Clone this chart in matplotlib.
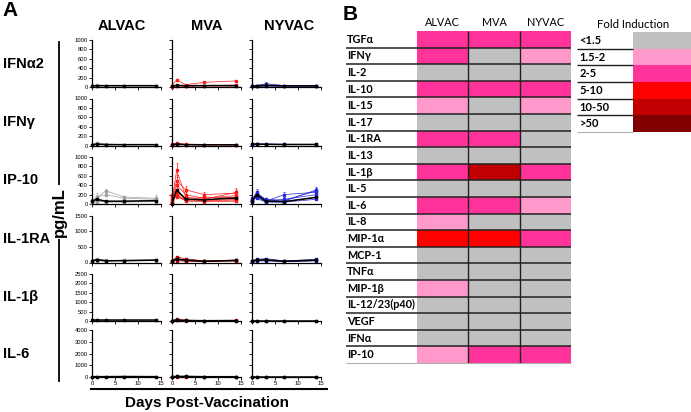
import matplotlib
matplotlib.use('Agg')
import matplotlib.pyplot as plt
import numpy as np
from matplotlib.colors import ListedColormap, BoundaryNorm

# ---- panel A data: days and per-animal cytokine levels (pg/mL) ----
DAYS = [0, 1, 3, 7, 14]
VACCINES = ['ALVAC', 'MVA', 'NYVAC']
CYTOKINES = ['IFN\u03b12', 'IFN\u03b3', 'IP-10', 'IL-1RA', 'IL-1\u03b2', 'IL-6']
YMAX = [1000, 1000, 1000, 1500, 2500, 4000]
YSTEP = [200, 200, 200, 500, 500, 1000]

IFNA2 = {
    'ALVAC': [[25, 30, 30, 28, 30], [20, 25, 22, 25, 25], [30, 35, 30, 30, 28]],
    'MVA': [[20, 150, 50, 100, 130], [10, 30, 20, 30, 40], [15, 20, 15, 20, 20]],
    'NYVAC': [[20, 30, 70, 30, 30], [15, 25, 30, 25, 25], [20, 20, 20, 20, 20]],
}
IFNA2_MEAN = {'ALVAC': [25, 30, 28, 28, 28], 'MVA': [18, 35, 28, 30, 30],
              'NYVAC': [20, 25, 35, 25, 25]}
IFNA2_ERR = {'MVA': [[5, 30, 10, 25, 20]], 'NYVAC': [[5, 10, 30, 10, 5]]}

IFNG = {
    'ALVAC': [[20, 60, 30, 20, 20], [10, 20, 15, 15, 15]],
    'MVA': [[30, 50, 25, 20, 20], [20, 30, 20, 15, 15], [10, 15, 10, 10, 10]],
    'NYVAC': [[30, 35, 35, 25, 25], [20, 25, 20, 20, 20]],
}
IFNG_MEAN = {'ALVAC': [15, 30, 20, 18, 18], 'MVA': [20, 30, 20, 15, 15],
             'NYVAC': [25, 30, 25, 22, 22]}
IFNG_ERR = {}

IP10 = {
    'ALVAC': [[60, 130, 280, 150, 120], [50, 150, 200, 120, 100], [40, 90, 60, 50, 60],
              [80, 60, 40, 40, 50], [30, 50, 50, 60, 80]],
    'MVA': [[50, 720, 150, 100, 250], [100, 500, 300, 200, 230], [80, 400, 200, 120, 180],
            [150, 300, 100, 80, 150], [30, 250, 120, 60, 100], [20, 200, 80, 90, 80],
            [60, 180, 60, 50, 60], [200, 150, 90, 150, 120]],
    'NYVAC': [[80, 250, 80, 60, 300], [100, 220, 100, 80, 280], [60, 180, 60, 200, 250],
              [120, 150, 50, 100, 200], [50, 200, 70, 50, 150], [90, 120, 40, 40, 100]],
}
IP10_MEAN = {'ALVAC': [60, 100, 60, 60, 70], 'MVA': [10, 300, 100, 90, 130],
             'NYVAC': [60, 200, 60, 50, 140]}
IP10_ERR = {
    'ALVAC': [[20, 60, 40, 30, 80], [20, 80, 30, 20, 30]],
    'MVA': [[20, 150, 60, 40, 90], [30, 120, 80, 60, 60], [20, 100, 50, 30, 40]],
    'NYVAC': [[20, 60, 20, 20, 60], [30, 40, 30, 20, 50], [20, 30, 20, 60, 40]],
}

IL1RA = {
    'ALVAC': [[60, 120, 70, 60, 80], [40, 80, 50, 50, 60], [50, 60, 40, 70, 90]],
    'MVA': [[60, 170, 120, 50, 80], [40, 120, 80, 40, 60], [30, 90, 60, 30, 50],
            [50, 60, 40, 40, 70]],
    'NYVAC': [[60, 100, 120, 50, 100], [40, 70, 80, 40, 70], [30, 50, 50, 30, 50]],
}
IL1RA_MEAN = {'ALVAC': [50, 90, 55, 60, 75], 'MVA': [45, 110, 75, 40, 65],
              'NYVAC': [45, 75, 85, 40, 75]}
IL1RA_ERR = {}

IL1B = {
    'ALVAC': [[30, 30, 30, 30, 30]],
    'MVA': [[20, 80, 40, 20, 30], [10, 40, 20, 10, 20]],
    'NYVAC': [[20, 20, 20, 20, 20]],
}
IL1B_MEAN = {'ALVAC': [30, 30, 30, 30, 30], 'MVA': [15, 60, 30, 15, 25],
             'NYVAC': [20, 20, 20, 20, 20]}
IL1B_ERR = {}

IL6 = {
    'ALVAC': [[30, 30, 30, 40, 30]],
    'MVA': [[40, 60, 60, 30, 30], [20, 30, 40, 20, 20]],
    'NYVAC': [[20, 20, 20, 20, 20]],
}
IL6_MEAN = {'ALVAC': [30, 30, 30, 40, 30], 'MVA': [30, 45, 50, 25, 25],
            'NYVAC': [20, 20, 20, 20, 20]}
IL6_ERR = {}

PANEL_DATA = [IFNA2, IFNG, IP10, IL1RA, IL1B, IL6]
PANEL_MEAN = [IFNA2_MEAN, IFNG_MEAN, IP10_MEAN, IL1RA_MEAN, IL1B_MEAN, IL6_MEAN]
PANEL_ERR = [IFNA2_ERR, IFNG_ERR, IP10_ERR, IL1RA_ERR, IL1B_ERR, IL6_ERR]

# ---- panel B data: fold induction category per cytokine/vaccine ----
TABLE_ROWS = ['TGF\u03b1', 'IFN\u03b3', 'IL-2', 'IL-10', 'IL-15', 'IL-17', 'IL-1RA',
              'IL-13', 'IL-1\u03b2', 'IL-5', 'IL-6', 'IL-8', 'MIP-1\u03b1', 'MCP-1',
              'TNF\u03b1', 'MIP-1\u03b2', 'IL-12/23(p40)', 'VEGF', 'IFN\u03b1', 'IP-10']
TABLE_CODES = [[2, 2, 2], [2, 0, 1], [0, 0, 0], [2, 2, 2], [1, 0, 1], [0, 0, 0],
               [2, 2, 0], [0, 0, 0], [2, 4, 2], [0, 0, 0], [2, 2, 1], [1, 0, 0],
               [3, 3, 2], [0, 0, 0], [0, 0, 0], [1, 0, 0], [0, 0, 0], [0, 0, 0],
               [0, 0, 0], [1, 2, 2]]
FOLD_LABELS = ['<1.5', '1.5-2', '2-5', '5-10', '10-50', '>50']
FOLD_COLORS = ['#c0c0c0', '#ff99cc', '#ff3399', '#ff0000', '#c00000', '#800000']

# ---- layout helpers (pixels) ----
W, H = 691, 412


def box(x0, y0, x1, y1):
    return [x0 / W, 1 - y1 / H, (x1 - x0) / W, (y1 - y0) / H]


fig = plt.figure(figsize=(W / 100, H / 100), dpi=100)
arial = 'Liberation Sans'

col_x = [92, 172, 252]
col_w = 69
row_top = [40, 98.5, 157, 215.5, 274, 330]
row_h = 47
line_cols = [['#a0a0a0', '#ff1a1a', '#2828d8'],
             ['#a0a0a0', '#ff1a1a', '#2828d8'],
             ['#a0a0a0', '#ff1a1a', '#2828d8'],
             ['#909090', '#c00000', '#1010a0'],
             ['#909090', '#b00000', '#101090'],
             ['#909090', '#b00000', '#101090']]

for r in range(6):
    for c, vac in enumerate(VACCINES):
        ax = fig.add_axes(box(col_x[c], row_top[r], col_x[c] + col_w, row_top[r] + row_h))
        series = PANEL_DATA[r][vac]
        errs = PANEL_ERR[r].get(vac, [])
        for i, s in enumerate(series):
            e = errs[i] if i < len(errs) else None
            ax.errorbar(DAYS, s, yerr=e, color=line_cols[r][c], lw=0.5, marker='s', ms=1.5,
                        capsize=1, elinewidth=0.5, capthick=0.5, clip_on=False)
        ax.plot(DAYS, PANEL_MEAN[r][vac], color='black', lw=1.1, marker='s', ms=2,
                clip_on=False, zorder=5)
        ax.set_xlim(0, 15)
        ax.set_ylim(0, YMAX[r])
        ax.set_xticks([0, 5, 10, 15])
        ax.set_yticks(np.arange(0, YMAX[r] + 1, YSTEP[r]))
        for sp in ['top', 'right']:
            ax.spines[sp].set_visible(False)
        for sp in ['left', 'bottom']:
            ax.spines[sp].set_linewidth(0.9)
        ax.tick_params(length=2, width=0.6, labelsize=4.2, pad=1)
        if c > 0:
            ax.set_yticklabels([])
        if r < 5:
            ax.set_xticklabels([])
        for lab in ax.get_xticklabels() + ax.get_yticklabels():
            lab.set_fontfamily(arial)

# panel A decorations
fig.text(2 / W, 1 - 11 / H, 'A', fontsize=15, fontweight='bold', family=arial, va='center')
hdr_x = [122, 207, 289]
for x, v in zip(hdr_x, VACCINES):
    fig.text(x / W, 1 - 26 / H, v, fontsize=10.5, fontweight='bold', family=arial,
             ha='center', va='center')
for r, name in enumerate(CYTOKINES):
    fig.text(3 / W, 1 - (row_top[r] + row_h / 2) / H, name, fontsize=10.5,
             fontweight='bold', family=arial, va='center')

fig.add_artist(plt.Line2D([59 / W, 59 / W], [1 - 42 / H, 1 - 381 / H], color='black', lw=1.3))
fig.text(59 / W, 1 - 212 / H, 'pg/mL', fontsize=12, fontweight='bold', family=arial,
         rotation=90, ha='center', va='center',
         bbox=dict(facecolor='white', edgecolor='none', pad=1.5))
fig.add_artist(plt.Line2D([91 / W, 327 / W], [1 - 389 / H, 1 - 389 / H], color='black', lw=1.5))
fig.text(207 / W, 1 - 403 / H, 'Days Post-Vaccination', fontsize=11, fontweight='bold',
         family=arial, ha='center', va='center')

# ---- panel B: heat table ----
calibri = 'Lato'
cmap = ListedColormap(FOLD_COLORS)
norm = BoundaryNorm(np.arange(-0.5, 6.5, 1), cmap.N)

axb = fig.add_axes(box(417, 31, 571, 363))
axb.pcolormesh(np.array(TABLE_CODES), cmap=cmap, norm=norm)
axb.set_xlim(0, 3)
axb.set_ylim(len(TABLE_ROWS), 0)
axb.axis('off')
lbl_x = (346 - 417) / (154 / 3)
for i, name in enumerate(TABLE_ROWS):
    axb.text(lbl_x + 0.02, i + 0.5, name, fontsize=7.8, fontweight='bold', family=calibri,
             va='center', ha='left', clip_on=False)
axb.hlines(np.arange(1, len(TABLE_ROWS)), lbl_x, 3, color='#202020', lw=1.1, clip_on=False)
axb.hlines([len(TABLE_ROWS)], lbl_x, 3, color='#b0b0b0', lw=0.8, clip_on=False)
axb.vlines([1, 2], 0, len(TABLE_ROWS), color='#202020', lw=1.0)
for j, v in enumerate(VACCINES):
    axb.text(j + 0.5, -0.5, v, fontsize=7.8, family=calibri, ha='center', va='center',
             clip_on=False)
fig.text(343 / W, 1 - 15 / H, 'B', fontsize=15, fontweight='bold', family=arial, va='center')

# legend table
axl = fig.add_axes(box(633, 32, 691, 132))
axl.pcolormesh(np.arange(len(FOLD_LABELS)).reshape(-1, 1), cmap=cmap, norm=norm)
axl.set_xlim(0, 1)
axl.set_ylim(len(FOLD_LABELS), 0)
axl.axis('off')
leg_x = (577 - 633) / 58
for i, lab in enumerate(FOLD_LABELS):
    axl.text(leg_x + 0.04, i + 0.5, lab, fontsize=8, fontweight='bold', family=calibri,
             va='center', ha='left', clip_on=False)
axl.hlines(np.arange(1, len(FOLD_LABELS)), leg_x, 0, color='#202020', lw=1.0, clip_on=False)
axl.hlines([len(FOLD_LABELS)], leg_x, 0, color='#b0b0b0', lw=0.8, clip_on=False)
axl.text(0.0, -0.45, 'Fold Induction', fontsize=8.2, family=calibri, ha='center', va='center',
         clip_on=False)

fig.savefig('out.png', dpi=100)
